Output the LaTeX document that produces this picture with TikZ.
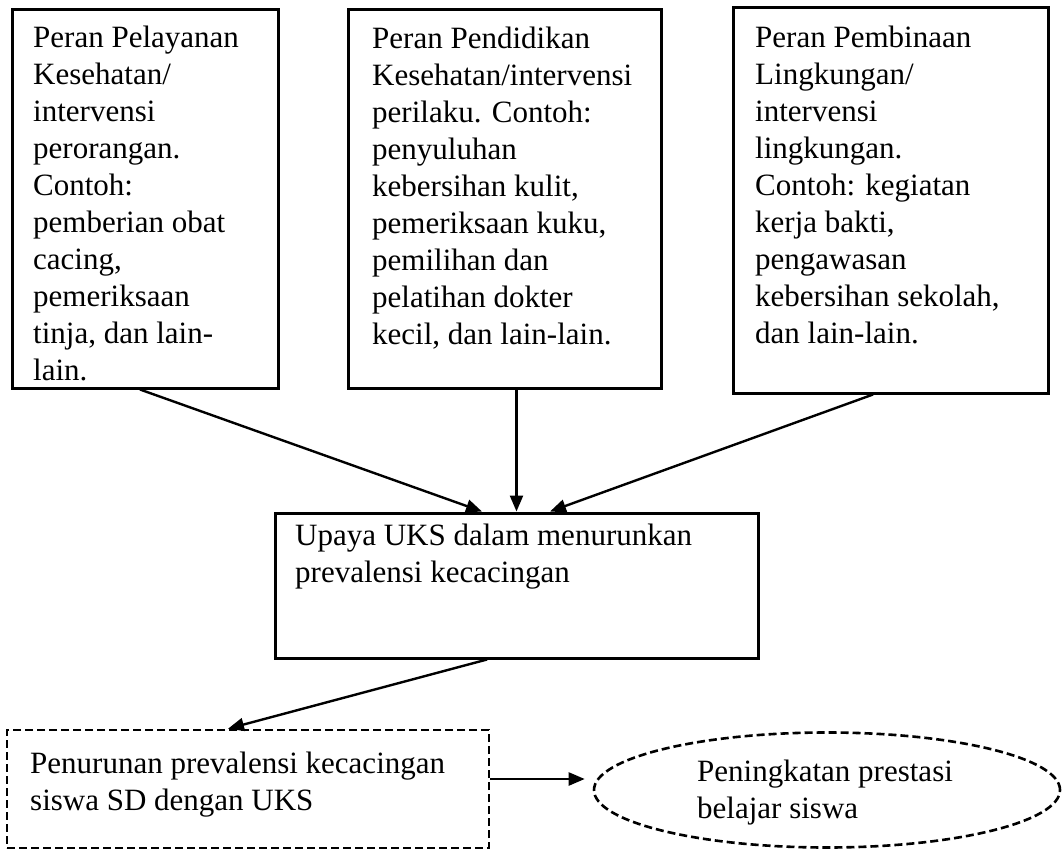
\documentclass[tikz,border=0pt]{standalone}
\usepackage{fontspec}
\setmainfont{Liberation Serif}
\usetikzlibrary{arrows.meta,shapes.geometric,calc}
\begin{document}
\begin{tikzpicture}[x=1pt,y=-1pt,
  boxst/.style={draw, line width=3pt, rectangle, inner sep=0pt},
  dbox/.style={draw, line width=2.6pt, dash pattern=on 8pt off 4pt, inner sep=0pt},
  txt/.style={anchor=base west, inner sep=0pt, align=left, font=\fontsize{31}{37}\selectfont},
  arr/.style={line width=2.4pt, -{Triangle[length=16pt,width=13pt]}}]
\useasboundingbox (0,0) rectangle (1062,850);
% boxes
\node[boxst, minimum width=266pt, minimum height=378pt] (b1) at (145,199) {};
\node[boxst, minimum width=313pt, minimum height=378pt] (b2) at (504.5,199) {};
\node[boxst, minimum width=315pt, minimum height=385pt] (b3) at (890.5,200.5) {};
\node[boxst, minimum width=483pt, minimum height=145pt] (mid) at (516.5,585.5) {};
\node[dbox, rectangle, minimum width=482pt, minimum height=118pt] (d) at (248,789) {};
\node[dbox, ellipse, minimum width=466pt, minimum height=115pt] (e) at (827,790) {};
% texts (anchored at the baseline of their last line)
\node[txt] (t1) at (33,380) {Peran Pelayanan\\Kesehatan/\\intervensi\\perorangan.\\Contoh:\\pemberian obat\\cacing,\\pemeriksaan\\tinja, dan lain-\\lain.};
\node[txt] (t2) at (372,344) {Peran Pendidikan\\Kesehatan/intervensi\\perilaku. Contoh:\\penyuluhan\\kebersihan kulit,\\pemeriksaan kuku,\\pemilihan dan\\pelatihan dokter\\kecil, dan lain-lain.};
\node[txt] (t3) at (755,343) {Peran Pembinaan\\Lingkungan/\\intervensi\\lingkungan.\\Contoh: kegiatan\\kerja bakti,\\pengawasan\\kebersihan sekolah,\\dan lain-lain.};
\node[txt] (tm) at (295,582) {Upaya UKS dalam menurunkan\\prevalensi kecacingan};
\node[txt] (td) at (30,810) {Penurunan prevalensi kecacingan\\siswa SD dengan UKS};
\node[txt] (te) at (697,818) {Peningkatan prestasi\\belajar siswa};
% connectors
\draw[arr] ([xshift=-5pt]b1.south) -- ([xshift=-34.5pt]mid.north);
\draw[arr] (mid.north |- b2.south) -- (mid.north);
\draw[arr] ([xshift=-17.5pt]b3.south) -- ([xshift=33.5pt]mid.north);
\draw[arr] ([xshift=-29.5pt]mid.south) -- ([xshift=-20pt]d.north);
\coordinate (tip) at ($(d.east -| e.west)+(-8,-10)$);
\draw[arr] ([yshift=10pt]d.east) -- (tip);
\end{tikzpicture}
\end{document}
